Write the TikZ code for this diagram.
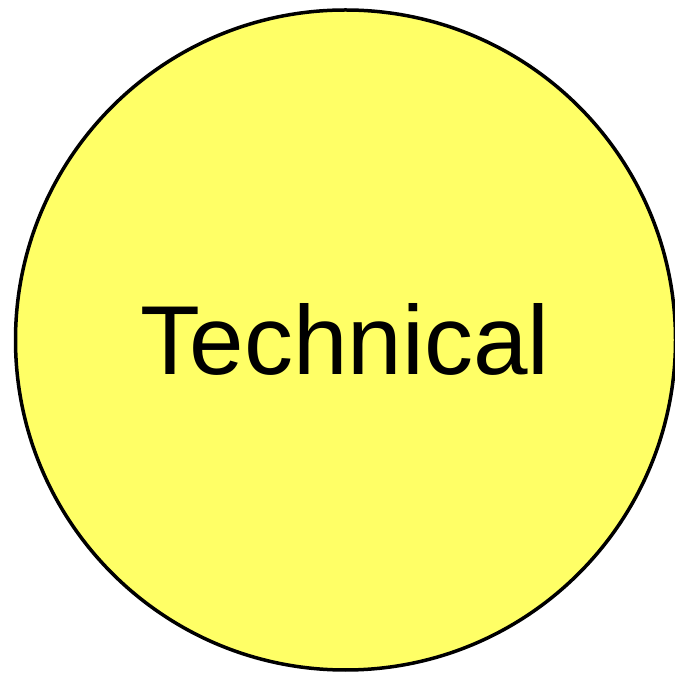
\documentclass[tikz,border=0pt]{standalone}
\usepackage{fontspec}
\setmainfont{Liberation Sans}
\definecolor{circfill}{HTML}{FFFF66}
\begin{document}
\begin{tikzpicture}[x=1pt,y=1pt,
  circ/.style={circle, draw=black, line width=3.5pt, fill=circfill, minimum size=660pt, inner sep=0pt},
  lbl/.style={font=\fontsize{98}{98}\selectfont, inner sep=0pt, anchor=base}]
\useasboundingbox (0,0) rectangle (675,675);
\node[circ] (c) at (345.5,335) {};
\node[lbl] (t) at (345,300) {Technical};
\end{tikzpicture}
\end{document}
